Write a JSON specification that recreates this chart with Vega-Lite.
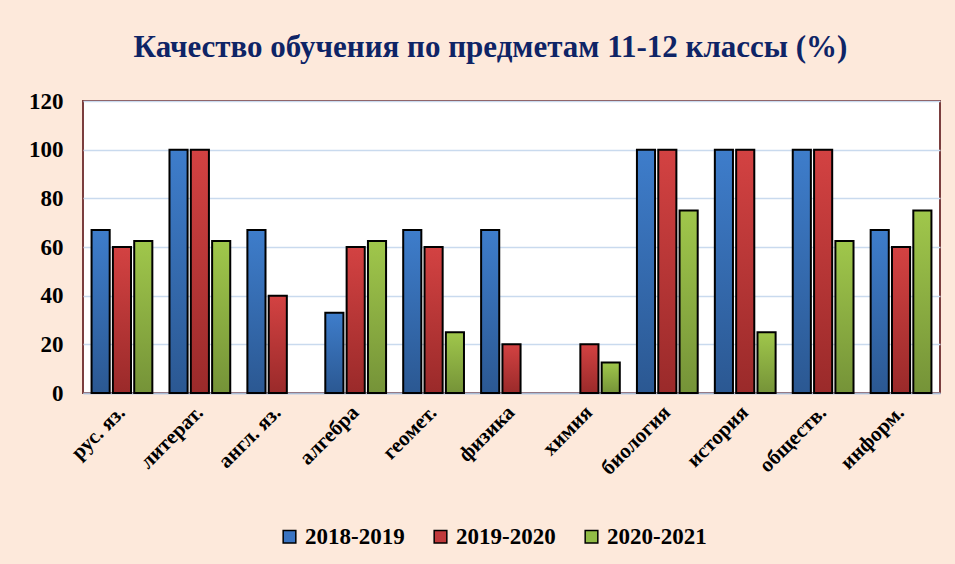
{
  "$schema": "https://vega.github.io/schema/vega-lite/v6.json",
  "autosize": {"type": "none"},
  "width": 857,
  "height": 292,
  "padding": {"left": 83, "top": 101, "right": 15, "bottom": 171},
  "background": "#FDE9DB",
  "title": {
    "text": "Качество обучения по предметам 11-12 классы (%)",
    "font": "'Liberation Serif', 'DejaVu Serif', serif",
    "fontSize": 31,
    "fontWeight": "bold",
    "color": "#0E2466",
    "anchor": "middle",
    "dx": -21,
    "offset": 26
  },
  "data": {
    "values": [
      {"subject": "рус. яз.", "year": "2018-2019", "value": 67},
      {"subject": "рус. яз.", "year": "2019-2020", "value": 60},
      {"subject": "рус. яз.", "year": "2020-2021", "value": 62.5},
      {"subject": "литерат.", "year": "2018-2019", "value": 100},
      {"subject": "литерат.", "year": "2019-2020", "value": 100},
      {"subject": "литерат.", "year": "2020-2021", "value": 62.5},
      {"subject": "англ. яз.", "year": "2018-2019", "value": 67},
      {"subject": "англ. яз.", "year": "2019-2020", "value": 40},
      {"subject": "алгебра", "year": "2018-2019", "value": 33},
      {"subject": "алгебра", "year": "2019-2020", "value": 60},
      {"subject": "алгебра", "year": "2020-2021", "value": 62.5},
      {"subject": "геомет.", "year": "2018-2019", "value": 67},
      {"subject": "геомет.", "year": "2019-2020", "value": 60},
      {"subject": "геомет.", "year": "2020-2021", "value": 25},
      {"subject": "физика", "year": "2018-2019", "value": 67},
      {"subject": "физика", "year": "2019-2020", "value": 20},
      {"subject": "химия", "year": "2019-2020", "value": 20},
      {"subject": "химия", "year": "2020-2021", "value": 12.5},
      {"subject": "биология", "year": "2018-2019", "value": 100},
      {"subject": "биология", "year": "2019-2020", "value": 100},
      {"subject": "биология", "year": "2020-2021", "value": 75},
      {"subject": "история", "year": "2018-2019", "value": 100},
      {"subject": "история", "year": "2019-2020", "value": 100},
      {"subject": "история", "year": "2020-2021", "value": 25},
      {"subject": "обществ.", "year": "2018-2019", "value": 100},
      {"subject": "обществ.", "year": "2019-2020", "value": 100},
      {"subject": "обществ.", "year": "2020-2021", "value": 62.5},
      {"subject": "информ.", "year": "2018-2019", "value": 67},
      {"subject": "информ.", "year": "2019-2020", "value": 60},
      {"subject": "информ.", "year": "2020-2021", "value": 75}
    ]
  },
  "encoding": {
    "x": {
      "field": "subject",
      "type": "nominal",
      "sort": null,
      "scale": {"paddingInner": 0.22, "paddingOuter": 0.11},
      "axis": {
        "title": null,
        "labelAngle": -45,
        "labelAlign": "right",
        "labelBaseline": "middle",
        "labelFont": "'Liberation Serif', 'DejaVu Serif', serif",
        "labelFontSize": 21,
        "labelFontWeight": "bold",
        "labelColor": "#000000",
        "labelPadding": 16,
        "ticks": false,
        "domainColor": "#A9BCD6",
        "domainWidth": 1.5
      }
    },
    "xOffset": {
      "field": "year",
      "type": "nominal",
      "scale": {"paddingInner": 0.15, "paddingOuter": 0}
    },
    "y": {
      "field": "value",
      "type": "quantitative",
      "scale": {"domain": [0, 120], "nice": false},
      "axis": {
        "title": null,
        "values": [0, 20, 40, 60, 80, 100, 120],
        "labelFont": "'Liberation Serif', 'DejaVu Serif', serif",
        "labelFontSize": 23,
        "labelFontWeight": "bold",
        "labelColor": "#000000",
        "labelPadding": 20,
        "ticks": false,
        "domain": false,
        "gridColor": "#C9DAEE",
        "gridWidth": 1.5
      }
    }
  },
  "layer": [
    {
      "mark": {"type": "bar"},
      "encoding": {
        "fill": {
          "field": "year",
          "type": "nominal",
          "scale": {"domain": ["2018-2019", "2019-2020", "2020-2021"], "range": ["#3A74C2", "#C0393B", "#92BC46"]},
          "legend": {
            "title": null,
            "orient": "none",
            "direction": "horizontal",
            "legendX": 195,
            "legendY": 424,
            "symbolType": "square",
            "symbolSize": 160,
            "symbolStrokeColor": "#000000",
            "symbolStrokeWidth": 1.5,
            "symbolOpacity": 1,
            "labelFont": "'Liberation Serif', 'DejaVu Serif', serif",
            "labelFontSize": 23,
            "labelFontWeight": "bold",
            "labelColor": "#000000",
            "labelOffset": 4,
            "columnPadding": 24
          }
        }
      }
    },
    {
      "mark": {"type": "bar", "stroke": "#000000", "strokeWidth": 2},
      "encoding": {
        "fill": {
          "condition": [
            {
              "test": "datum.year === '2018-2019'",
              "value": {"gradient": "linear", "x1": 0, "y1": 0, "x2": 0, "y2": 1, "stops": [{"offset": 0, "color": "#3E7DCB"}, {"offset": 1, "color": "#2B5892"}]}
            },
            {
              "test": "datum.year === '2019-2020'",
              "value": {"gradient": "linear", "x1": 0, "y1": 0, "x2": 0, "y2": 1, "stops": [{"offset": 0, "color": "#D34242"}, {"offset": 1, "color": "#9A2A2A"}]}
            }
          ],
          "value": {"gradient": "linear", "x1": 0, "y1": 0, "x2": 0, "y2": 1, "stops": [{"offset": 0, "color": "#A0C74B"}, {"offset": 1, "color": "#759338"}]}
        }
      }
    }
  ],
  "config": {
    "view": {"fill": "#FFFFFF", "stroke": "#7B3E3E", "strokeWidth": 2}
  }
}
